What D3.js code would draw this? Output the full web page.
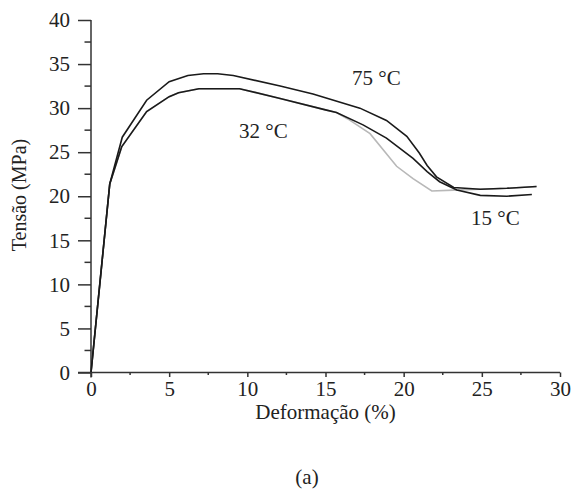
<!DOCTYPE html>
<html>
<head>
<meta charset="utf-8">
<script src="https://cdn.jsdelivr.net/npm/d3@7"></script>
<style>
  html, body { margin: 0; padding: 0; background: #fff; }
  svg { display: block; }
  text { font-family: "Liberation Serif", "Times New Roman", serif; fill: #222; }
</style>
</head>
<body>
<svg id="chart" width="571" height="497"></svg>
<script>
// Stress–strain curves: deformation (%) vs. stress (MPa)
const strain75 = [0, 1.2, 2.0, 3.56, 5.0, 6.2, 7.2, 8.1, 9.1, 12.1, 14.2, 17.2, 18.9, 20.2, 21.0, 21.5, 22.1, 23.2, 24.9, 26.6, 28.5];
const stress75 = [0, 21.4, 26.7, 30.9, 33.0, 33.7, 33.9, 33.9, 33.7, 32.5, 31.6, 30.0, 28.6, 26.8, 24.9, 23.5, 22.2, 21.0, 20.8, 20.9, 21.1];

const strain32 = [0, 1.2, 1.96, 3.56, 5.0, 5.6, 6.9, 9.5, 12.1, 15.0, 15.7, 16.4, 17.85, 19.55, 20.6, 21.8, 23.2, 24.9, 26.6, 28.5];
const stress32 = [0, 21.4, 25.6, 29.6, 31.3, 31.75, 32.2, 32.2, 31.1, 29.8, 29.5, 28.8, 27.1, 23.4, 22.0, 20.6, 20.7, 20.8, 20.9, 21.1];

const strain15 = [0, 1.2, 1.96, 3.56, 5.0, 5.6, 6.9, 9.5, 12.1, 15.0, 15.7, 17.4, 18.9, 20.6, 21.5, 22.3, 23.4, 24.9, 26.6, 28.2];
const stress15 = [0, 21.4, 25.6, 29.6, 31.3, 31.75, 32.2, 32.2, 31.1, 29.8, 29.5, 28.1, 26.6, 24.3, 22.8, 21.65, 20.7, 20.1, 20.0, 20.2];

const xTicks = [0, 5, 10, 15, 20, 25, 30];
const yTicks = [0, 5, 10, 15, 20, 25, 30, 35, 40];
const xMinorTicks = [2.5, 7.5, 12.5, 17.5, 22.5, 27.5];
const yMinorTicks = [2.5, 7.5, 12.5, 17.5, 22.5, 27.5, 32.5, 37.5];

const curveLabels = ["75 °C", "32 °C", "15 °C"];

const svg = d3.select("#chart");
const x = d3.scaleLinear().domain([0, 30]).range([91, 560]);
const y = d3.scaleLinear().domain([0, 40]).range([372.5, 20]);

const axisColor = "#333";
const fontSize = 21;

// Y axis: outward major and minor ticks
const yAxis = svg.append("g").attr("transform", `translate(${x(0)},0)`)
  .call(d3.axisLeft(y).tickValues(yTicks).tickSize(13).tickPadding(8).tickFormat(d3.format("d")));
yAxis.append("g").selectAll("line").data(yMinorTicks).join("line")
  .attr("x1", -6.5).attr("x2", 0).attr("y1", d => y(d)).attr("y2", d => y(d));

// X axis: small downward ticks
const xAxis = svg.append("g").attr("transform", `translate(0,${y(0)})`)
  .call(d3.axisBottom(x).tickValues(xTicks).tickSize(4.5).tickPadding(4).tickFormat(d3.format("d")));
xAxis.append("g").selectAll("line").data(xMinorTicks).join("line")
  .attr("x1", d => x(d)).attr("x2", d => x(d)).attr("y1", 0).attr("y2", 2.5);

[yAxis, xAxis].forEach(g => {
  g.attr("font-family", null).attr("font-size", null);
  g.select(".domain").attr("stroke", axisColor).attr("stroke-width", 1.5);
  g.selectAll("line").attr("stroke", axisColor).attr("stroke-width", 1.5);
  g.selectAll("text").attr("font-size", fontSize).attr("fill", "#222");
});
yAxis.select(".domain").attr("d", `M0,${y(40)}V${y(0) + 5}`);
xAxis.select(".domain").attr("d", `M${x(0) - 13},0H${x(30)}`);

// Curves
const line = d3.line().x(d => x(d[0])).y(d => y(d[1]));
const zip = (a, b) => a.map((v, i) => [v, b[i]]);

svg.append("path").datum(zip(strain32, stress32))
  .attr("d", line).attr("fill", "none").attr("stroke", "#b8b8b8").attr("stroke-width", 1.6);
svg.append("path").datum(zip(strain15, stress15))
  .attr("d", line).attr("fill", "none").attr("stroke", "#1a1a1a").attr("stroke-width", 1.6);
svg.append("path").datum(zip(strain75, stress75))
  .attr("d", line).attr("fill", "none").attr("stroke", "#1a1a1a").attr("stroke-width", 1.6);

// Curve labels
const labelPos = [[352, 85], [239, 138], [471, 225]];
svg.append("g").selectAll("text").data(curveLabels).join("text")
  .attr("x", (d, i) => labelPos[i][0]).attr("y", (d, i) => labelPos[i][1])
  .attr("font-size", fontSize).text(d => d);

// Axis titles
svg.append("text").attr("x", 325.5).attr("y", 419).attr("text-anchor", "middle")
  .attr("font-size", fontSize).text("Deformação (%)");
svg.append("text").attr("transform", "translate(26,195) rotate(-90)").attr("text-anchor", "middle")
  .attr("font-size", 20).text("Tensão (MPa)");
svg.append("text").attr("x", 307).attr("y", 484).attr("text-anchor", "middle")
  .attr("font-size", fontSize).text("(a)");
</script>
</body>
</html>
